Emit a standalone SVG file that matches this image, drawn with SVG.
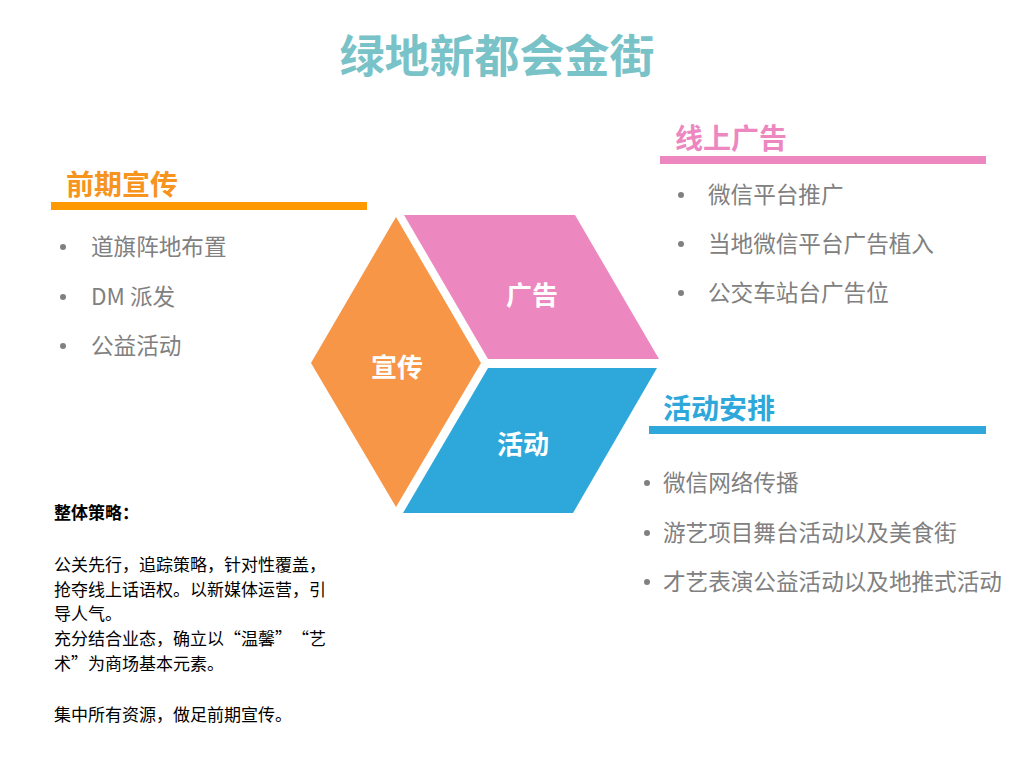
<svg xmlns="http://www.w3.org/2000/svg" width="1024" height="768" viewBox="0 0 1024 768">
<style>
text{font-family:"Noto Sans CJK SC","Noto Sans",sans-serif}
.title{font-size:45px;font-weight:bold;fill:#79C3C8}
.head{font-size:28px;font-weight:bold}
.item{font-size:22.6px;fill:#808080}
.lbl{font-size:26px;font-weight:bold;fill:#FFFFFF;text-anchor:middle}
.body{font-size:17px;fill:#000000}
.dot{fill:#808080}
</style>
<rect width="1024" height="768" fill="#FFFFFF"/>
<text class="title" x="497" y="73" text-anchor="middle">绿地新都会金街</text>

<g id="shapes">
<g id="node-xuanchuan">
<polygon points="396,217 481,363 396,507 311,363" fill="#F79646"/>
<text class="lbl" x="397" y="377">宣传</text>
</g>
<g id="node-guanggao">
<polygon points="404,215 575,215 659,359 488,359" fill="#EC87BF"/>
<text class="lbl" x="532" y="305">广告</text>
</g>
<g id="node-huodong">
<polygon points="488,368 657,368 573,513 403,513" fill="#2EA8DB"/>
<text class="lbl" x="523" y="454">活动</text>
</g>
</g>

<g id="connectors"></g>

<g id="panel-qianqi">
<text class="head" x="66" y="195" fill="#F7941D">前期宣传</text>
<rect x="51" y="202" width="316" height="8" fill="#FF9900"/>
<circle class="dot" cx="63" cy="247" r="3"/>
<text class="item" x="91" y="255">道旗阵地布置</text>
<circle class="dot" cx="63" cy="297" r="3"/>
<text class="item" x="91" y="305">DM 派发</text>
<circle class="dot" cx="63" cy="346" r="3"/>
<text class="item" x="91" y="354">公益活动</text>
</g>

<g id="panel-xianshang">
<text class="head" x="675" y="149" fill="#EC87BF">线上广告</text>
<rect x="660" y="156" width="326" height="8" fill="#EC87BF"/>
<circle class="dot" cx="681" cy="195" r="3"/>
<text class="item" x="708" y="203">微信平台推广</text>
<circle class="dot" cx="681" cy="244" r="3"/>
<text class="item" x="708" y="252">当地微信平台广告植入</text>
<circle class="dot" cx="681" cy="293" r="3"/>
<text class="item" x="708" y="301">公交车站台广告位</text>
</g>

<g id="panel-huodong">
<text class="head" x="663" y="419" fill="#2EA8DB">活动安排</text>
<rect x="649" y="426" width="337" height="8" fill="#2EA8DB"/>
<circle class="dot" cx="647" cy="483" r="3"/>
<text class="item" x="663" y="491">微信网络传播</text>
<circle class="dot" cx="647" cy="533" r="3"/>
<text class="item" x="663" y="541">游艺项目舞台活动以及美食街</text>
<circle class="dot" cx="647" cy="582" r="3"/>
<text class="item" x="663" y="590">才艺表演公益活动以及地推式活动</text>
</g>

<g id="strategy">
<text class="body" x="54" y="519" font-weight="bold" font-size="16">整体策略：</text>
<text class="body" x="54" y="571">公关先行，追踪策略，针对性覆盖，</text>
<text class="body" x="54" y="596">抢夺线上话语权。以新媒体运营，引</text>
<text class="body" x="54" y="620">导人气。</text>
<text class="body" x="54" y="645">充分结合业态，确立以“温馨”</text>
<text class="body" x="326" y="645" text-anchor="end">“艺</text>
<text class="body" x="54" y="670">术”为商场基本元素。</text>
<text class="body" x="54" y="721">集中所有资源，做足前期宣传。</text>
</g>
</svg>
